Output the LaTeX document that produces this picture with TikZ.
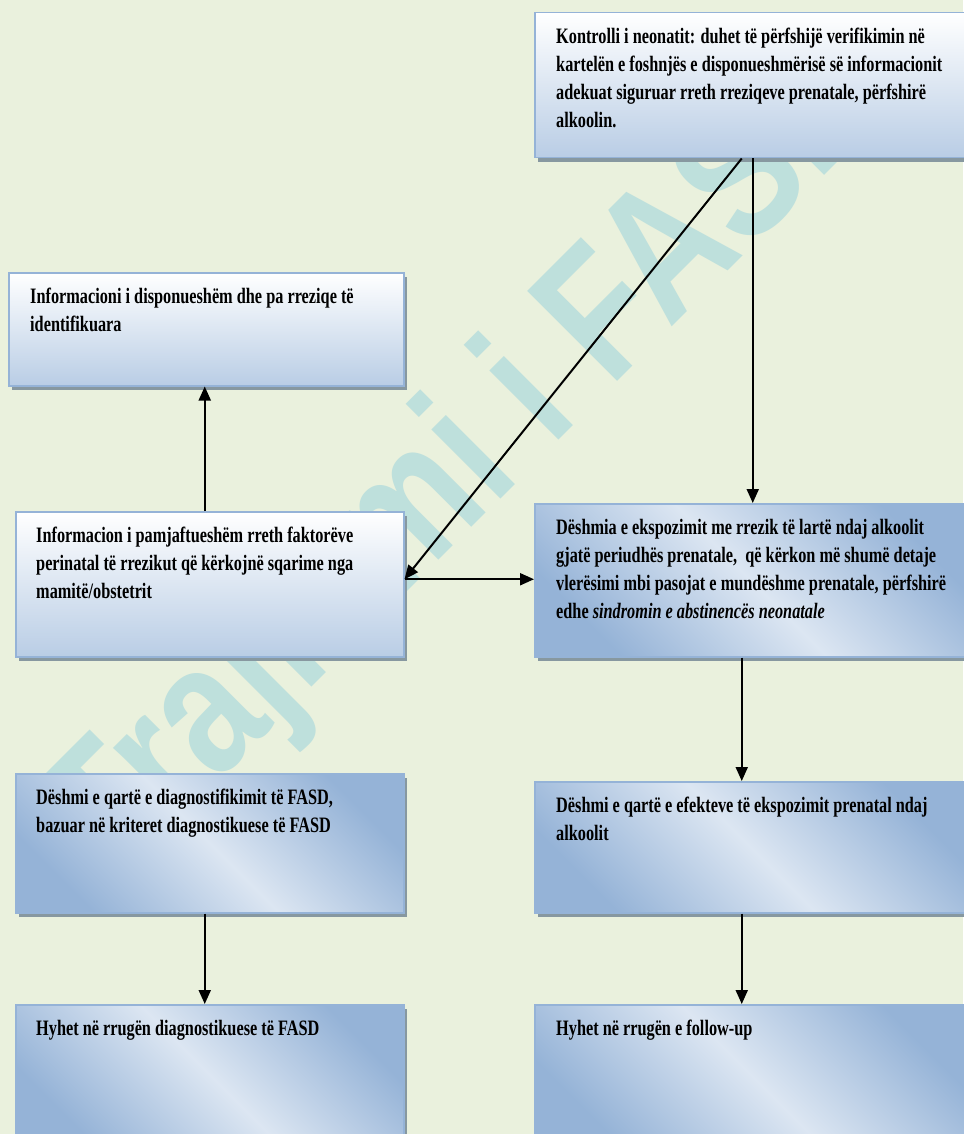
\documentclass[tikz,border=0pt]{standalone}
\usepackage{fontspec}
\usepackage{xcolor}
\definecolor{fasd-bg}{HTML}{EAF1DD}
\definecolor{fasd-mark}{HTML}{BEE0DC}
\definecolor{fasd-border}{HTML}{95B3D7}
\definecolor{fasd-pale}{HTML}{B9CDE5}
\definecolor{fasd-blue}{HTML}{95B3D7}
\definecolor{fasd-light}{HTML}{DCE6F2}
\definecolor{fasd-shadow}{HTML}{8798A0}
\newfontfamily\boxfont[FakeStretch=0.74]{Liberation Serif}
\newfontfamily\markfont[FakeStretch=0.81]{Liberation Sans}
\usepackage{tikz}
\usetikzlibrary{positioning,arrows.meta,shadows}

\tikzset{
  kuti/.style={draw=fasd-border, line width=1.5pt, inner sep=0pt, anchor=north west,
    general shadow={fill=fasd-shadow, shadow xshift=3pt, shadow yshift=-4pt}},
  kuti-bardhe/.style={kuti, top color=white, bottom color=fasd-pale},
  kuti-blu/.style={kuti, top color=fasd-blue, bottom color=fasd-blue, middle color=fasd-light, shading angle=-45},
  teksti/.style={anchor=north west, inner sep=0pt, align=left,
    font=\boxfont\bfseries\fontsize{22}{28}\selectfont},
  shigjeta/.style={line width=2pt, -{Triangle[length=14pt,width=12pt]}}
}

\begin{document}
\begin{tikzpicture}[x=1pt,y=1pt]

    % Background
    \useasboundingbox (0,0) rectangle (963,-1134);
    \fill[fasd-bg] (0,0) rectangle (963,-1134);

% Watermark
\node[rotate=45, text=fasd-mark, inner sep=0pt, font=\markfont\bfseries\fontsize{185}{185}\selectfont] (marka) at (471,-461) {Trajnimi i FASD};

% Kutite
\node[kuti-bardhe, minimum width=432pt, minimum height=145pt] (kontrolli) at (534,-12) {};
\node[kuti-bardhe, minimum width=395pt, minimum height=113pt] (disponueshem) at (8,-272) {};
\node[kuti-bardhe, minimum width=388pt, minimum height=145pt] (pamjaftueshem) at (15,-511) {};
\node[kuti-blu, minimum width=432pt, minimum height=153pt] (ekspozimi) at (534,-503) {};
\node[kuti-blu, minimum width=388pt, minimum height=139pt] (diagnoza) at (15,-773) {};
\node[kuti-blu, minimum width=432pt, minimum height=131pt] (efektet) at (534,-781) {};
\node[kuti-blu, minimum width=388pt, minimum height=140pt] (rruga-fasd) at (15,-1004) {};
\node[kuti-blu, minimum width=432pt, minimum height=140pt] (ndjekja) at (534,-1004) {};

% Tekstet
\node[teksti, below right=11.4pt and 22pt of kontrolli.north west] (t-kontrolli) {\strut Kontrolli i neonatit: duhet të përfshijë verifikimin në\\
kartelën e foshnjës e disponueshmërisë së informacionit\\
adekuat siguruar rreth rreziqeve prenatale, përfshirë\\
alkoolin.};
\node[teksti, below right=11.4pt and 22pt of disponueshem.north west] (t-disponueshem) {\strut Informacioni i disponueshëm dhe pa rreziqe të\\
identifikuara};
\node[teksti, below right=11.4pt and 21pt of pamjaftueshem.north west] (t-pamjaftueshem) {\strut Informacion i pamjaftueshëm rreth faktorëve\\
perinatal të rrezikut që kërkojnë sqarime nga\\
mamitë/obstetrit};
\node[teksti, below right=11.4pt and 22pt of ekspozimi.north west] (t-ekspozimi) {\strut Dëshmia e ekspozimit me rrezik të lartë ndaj alkoolit\\
gjatë periudhës prenatale,\ \ që kërkon më shumë detaje\\
vlerësimi mbi pasojat e mundëshme prenatale, përfshirë\\
edhe \textit{sindromin e abstinencës neonatale}};
\node[teksti, below right=11.4pt and 21pt of diagnoza.north west] (t-diagnoza) {\strut Dëshmi e qartë e diagnostifikimit të FASD,\\
bazuar në kriteret diagnostikuese të FASD};
\node[teksti, below right=11.4pt and 22pt of efektet.north west] (t-efektet) {\strut Dëshmi e qartë e efekteve të ekspozimit prenatal ndaj\\
alkoolit};
\node[teksti, below right=11.4pt and 21pt of rruga-fasd.north west] (t-rruga-fasd) {\strut Hyhet në rrugën diagnostikuese të FASD};
\node[teksti, below right=11.4pt and 22pt of ndjekja.north west] (t-ndjekja) {\strut Hyhet në rrugën e follow-up};

% Shigjetat
\draw[shigjeta] ([xshift=-9pt]kontrolli.south) -- ([yshift=5pt]pamjaftueshem.east);
\draw[shigjeta] ([xshift=2pt]kontrolli.south) -- ([xshift=2pt]kontrolli.south |- ekspozimi.north);
\draw[shigjeta] ([yshift=5pt]pamjaftueshem.east) -- ([yshift=5pt]pamjaftueshem.east -| ekspozimi.west);
\draw[shigjeta] ([xshift=-5pt]pamjaftueshem.north) -- ([xshift=-5pt]pamjaftueshem.north |- disponueshem.south);
\draw[shigjeta] ([xshift=-9pt]ekspozimi.south) -- ([xshift=-9pt]ekspozimi.south |- efektet.north);
\draw[shigjeta] ([xshift=-5pt]diagnoza.south) -- ([xshift=-5pt]diagnoza.south |- rruga-fasd.north);
\draw[shigjeta] ([xshift=-9pt]efektet.south) -- ([xshift=-9pt]efektet.south |- ndjekja.north);

\end{tikzpicture}
\end{document}
